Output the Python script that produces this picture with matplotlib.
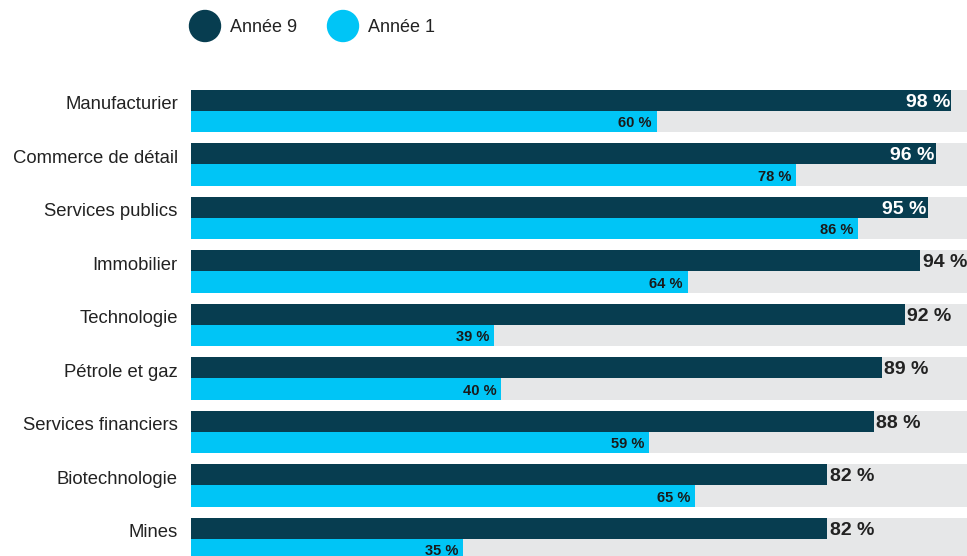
import numpy as np
from matplotlib import pyplot as plt
from matplotlib.patches import Ellipse

categories = ['Manufacturier', 'Commerce de détail', 'Services publics', 'Immobilier',
              'Technologie', 'Pétrole et gaz', 'Services financiers', 'Biotechnologie', 'Mines']
annee9 = [98, 96, 95, 94, 92, 89, 88, 82, 82]
annee1 = [60, 78, 86, 64, 39, 40, 59, 65, 35]
series_names = ['Année 9', 'Année 1']

dark = '#073d50'
cyan = '#00c5f6'
gray = '#e6e7e8'

plt.rcParams['font.family'] = ['Liberation Sans', 'DejaVu Sans']

fig = plt.figure(figsize=(9.67, 5.56), dpi=100)
W, H = 967, 556

# axes: left at 191px, bottom at figure bottom, top at 80px
ax = fig.add_axes([191 / W, 0, 1 - 191 / W, (H - 80) / H])
ax.set_xlim(0, 100)
ax.set_ylim(8.318, -0.579)
ax.axis('off')

y = np.arange(len(categories))
h = 0.393

ax.barh(y, [100] * len(y), height=2 * h, color=gray, zorder=0)
ax.barh(y - h / 2, annee9, height=h, color=dark, zorder=2)
ax.barh(y + h / 2, annee1, height=h, color=cyan, zorder=2)

for i, (v9, v1) in enumerate(zip(annee9, annee1)):
    if v9 >= 95:
        ax.text(v9 - 0.2, i - h / 2 + 0.03, f'{v9} %', ha='right', va='center',
                color='white', fontsize=14, fontweight='bold', zorder=3)
    else:
        ax.text(v9 + 0.3, i - h / 2 + 0.03, f'{v9} %', ha='left', va='center',
                color='#222222', fontsize=14, fontweight='bold', zorder=3,
                clip_on=False)
    ax.text(v1 - 0.6, i + h / 2 + 0.03, f'{v1} %', ha='right', va='center',
            color='#1a1a1a', fontsize=10.5, fontweight='bold', zorder=3)
    ax.text(-1.7, i - 0.12, categories[i], ha='right', va='center',
            color='#222222', fontsize=13.3, clip_on=False)

# legend
for cx, col, name in [(205, dark, series_names[0]), (343, cyan, series_names[1])]:
    fig.patches.append(Ellipse((cx / W, 1 - 26 / H), 31 / W, 31 / H, color=col,
                               transform=fig.transFigure, figure=fig))
    fig.text((cx + 25) / W, 1 - 28 / H, name, ha='left', va='center',
             fontsize=13, color='#222222')

plt.savefig('out.png', dpi=100)
